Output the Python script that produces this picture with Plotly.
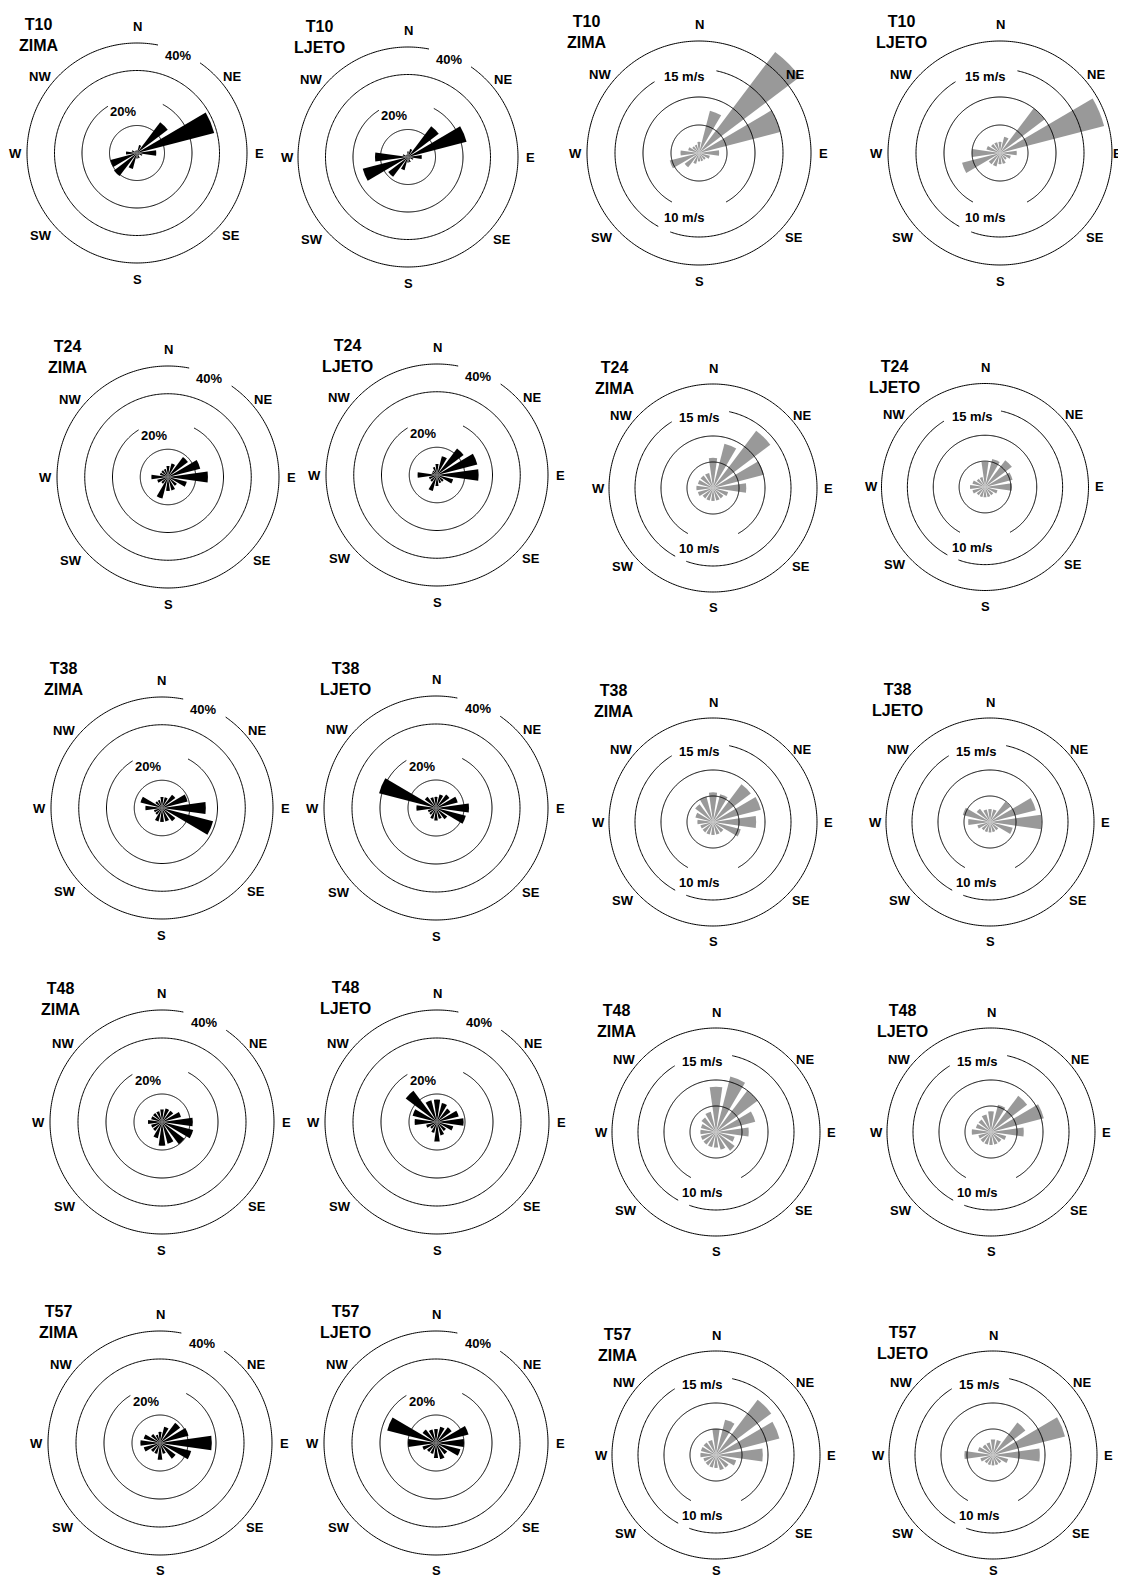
import numpy as np
import plotly.graph_objects as go

W, H = 1126, 1580          # page size
PAGE_MARGIN = 8            # default body margin of the html page
FIG_W, FIG_H = W - PAGE_MARGIN, H - PAGE_MARGIN

# ---------------- data ----------------
DIRECTIONS = ["N", "NNE", "NE", "ENE", "E", "ESE", "SE", "SSE",
              "S", "SSW", "SW", "WSW", "W", "WNW", "NW", "NNW"]
THETA = [0, 22.5, 45, 67.5, 90, 112.5, 135, 157.5,
         180, 202.5, 225, 247.5, 270, 292.5, 315, 337.5]

STATIONS = ["T10", "T24", "T38", "T48", "T57"]
SEASONS = ["ZIMA", "LJETO"]

FREQ_RINGS = [10, 20, 30, 40]          # %
SPEED_RINGS = [5, 10, 15, 20]          # m/s
COMPASS_LABELS = ["N", "NE", "E", "SE", "S", "SW", "W", "NW"]

# frequency of direction (%)
freq_T10_zima = [1, 3, 14, 29, 7, 2, 1, 2, 2, 6, 10.5, 10, 4, 2, 1, 1]
freq_T10_ljeto = [2, 3, 14, 22, 5, 2, 1, 2, 2, 5, 9, 17, 12, 2, 1, 1]
freq_T24_zima = [4, 5, 9, 12, 14.4, 7, 4, 5, 5, 8, 3, 4, 6, 3, 3, 3]
freq_T24_ljeto = [4, 7, 12, 15, 15, 6, 3, 3, 4, 6, 3, 3, 7, 2, 2, 3]
freq_T38_zima = [4, 4, 6, 9.5, 15.8, 19, 6, 5, 5, 5, 3, 3, 6, 8, 3, 3]
freq_T38_ljeto = [4, 5, 6, 8, 11.8, 11, 5, 4, 4.5, 4, 3, 3, 7, 21, 5, 4]
freq_T48_zima = [4.5, 5, 5, 7, 11, 11.5, 10, 8, 8.5, 6, 4, 4, 5, 4, 4, 4]
freq_T48_ljeto = [8, 7, 6, 8, 9.5, 6, 4, 5, 7, 4, 3, 4, 8, 9, 14, 8]
freq_T57_zima = [4, 6, 9, 10.5, 18.5, 11.5, 7, 4, 6, 4, 4, 6, 7, 6, 4, 3]
freq_T57_ljeto = [5, 6, 7, 12, 10, 9, 5, 6, 5.4, 4, 4, 5, 10, 18, 6, 5]

# mean wind speed per direction (m/s)
speed_T10_zima = [2, 7.8, 22.6, 15, 3.6, 2, 1.5, 1.5, 1.5, 2, 3.2, 5.4, 3.3, 2, 1.5, 1.5]
speed_T10_ljeto = [2, 3, 10, 19.2, 3, 2, 1.5, 2, 2, 2.5, 2.5, 7, 5, 2.5, 2, 2]
speed_T24_zima = [5.8, 8.8, 13.8, 10.1, 6.4, 3, 2.5, 2.5, 2.5, 2.5, 2.5, 3, 3.2, 3, 3, 3]
speed_T24_ljeto = [4.9, 5.6, 6.5, 5.5, 5.2, 2.5, 2, 2, 2, 2, 2, 2.5, 2.9, 2.5, 2, 2]
speed_T38_zima = [5.7, 5.5, 9.1, 9.5, 8.3, 5.5, 2.5, 2.5, 2.5, 2.5, 2.5, 2.5, 3, 3.5, 4.3, 5]
speed_T38_ljeto = [2.5, 2.5, 4.9, 9.1, 9.9, 4.5, 2, 2, 2, 2, 2, 2.5, 4.2, 5.4, 3.2, 2.5]
speed_T48_zima = [8.7, 11, 10, 7.8, 6.3, 3.7, 4.5, 3.5, 3, 3, 3, 3, 3, 3, 3.5, 4]
speed_T48_ljeto = [4, 5.4, 8.7, 10.5, 6.3, 3, 2.5, 2.5, 2.5, 2.5, 2.5, 2.5, 3.7, 3, 3, 3.5]
speed_T57_zima = [5, 7, 13.3, 12.6, 9, 4, 3, 3, 2.5, 2.5, 2.5, 2.5, 3, 3, 3, 3]
speed_T57_ljeto = [3, 3, 7.8, 14.3, 9, 3, 2, 2, 2, 2, 2, 2.5, 5.5, 3, 2.5, 2.5]

FREQ = {("T10", "ZIMA"): freq_T10_zima, ("T10", "LJETO"): freq_T10_ljeto,
        ("T24", "ZIMA"): freq_T24_zima, ("T24", "LJETO"): freq_T24_ljeto,
        ("T38", "ZIMA"): freq_T38_zima, ("T38", "LJETO"): freq_T38_ljeto,
        ("T48", "ZIMA"): freq_T48_zima, ("T48", "LJETO"): freq_T48_ljeto,
        ("T57", "ZIMA"): freq_T57_zima, ("T57", "LJETO"): freq_T57_ljeto}
SPEED = {("T10", "ZIMA"): speed_T10_zima, ("T10", "LJETO"): speed_T10_ljeto,
         ("T24", "ZIMA"): speed_T24_zima, ("T24", "LJETO"): speed_T24_ljeto,
         ("T38", "ZIMA"): speed_T38_zima, ("T38", "LJETO"): speed_T38_ljeto,
         ("T48", "ZIMA"): speed_T48_zima, ("T48", "LJETO"): speed_T48_ljeto,
         ("T57", "ZIMA"): speed_T57_zima, ("T57", "LJETO"): speed_T57_ljeto}

# ---------------- layout (pixel geometry, styling) ----------------
# per row: columns A (freq zima), B (freq ljeto), C (speed zima), D (speed ljeto)
# (cx, cy, R of outer ring, title dx, title dy) in page pixels
GEOM = [
    [(137, 153, 110, -98, -118), (408, 157, 110, -89, -120),
     (699, 153, 112, -112, -121), (1000, 153, 112, -99, -121)],
    [(168, 477, 111, -100, -120), (437, 475, 111, -90, -119),
     (713, 488, 104, -98, -110), (985, 487, 103.5, -91, -110)],
    [(162, 808, 111, -98, -129), (436, 808, 112, -91, -129),
     (713, 822, 104, -99, -121), (990, 822, 104, -93, -122)],
    [(162, 1122, 112, -101, -123), (437, 1122, 112, -92, -124),
     (716, 1132, 104, -99, -111), (991, 1132, 104, -89, -111)],
    [(160, 1443, 112, -101, -121), (436, 1443, 112, -91, -121),
     (716, 1455, 104, -98, -110), (993, 1455, 104, -91, -112)],
]

FONT = "Arial, 'Liberation Sans', sans-serif"
BAR_WIDTH = 16
FREQ_COLOR = "#000000"
SPEED_COLOR = "#999999"

# ring segments drawn (bearing ranges), gaps left for labels
FREQ_SEGMENTS = {10: [(0, 360)], 20: [(28, 328)], 30: [(0, 360)], 40: [(35, 371)]}
SPEED_SEGMENTS = {5: [(0, 360)], 10: [(209, 511)], 15: [(12, 200), (209, 328)], 20: [(0, 360)]}

# compass label offsets (fraction of R): dx, dy (screen, y down)
COMPASS_OFF = {"N": (0, -1.15), "NE": (0.86, -0.70), "E": (1.11, 0), "SE": (0.85, 0.75),
               "S": (0, 1.15), "SW": (-0.87, 0.75), "W": (-1.10, 0), "NW": (-0.88, -0.70)}

LABEL_X_MAX = W - 9        # keep edge labels fully inside the page
LABEL_Y_MAX = H - 10


def px(x, y):
    x -= PAGE_MARGIN
    y -= PAGE_MARGIN
    return x / FIG_W, 1 - y / FIG_H


fig = go.Figure()
annotations = []
layout_polars = {}

idx = 0
for row, station in enumerate(STATIONS):
    panels = [("freq", "ZIMA"), ("freq", "LJETO"), ("speed", "ZIMA"), ("speed", "LJETO")]
    for col, (kind, season) in enumerate(panels):
        idx += 1
        key = "polar" if idx == 1 else f"polar{idx}"
        cx, cy, R, tdx, tdy = GEOM[row][col]
        if kind == "freq":
            vals = FREQ[(station, season)]
            rings, segs, ring_max, color = FREQ_RINGS, FREQ_SEGMENTS, 40, FREQ_COLOR
        else:
            vals = SPEED[(station, season)]
            rings, segs, ring_max, color = SPEED_RINGS, SPEED_SEGMENTS, 20, SPEED_COLOR
        rmax = max(ring_max * 1.03, max(vals) * 1.04)
        Rd = R * rmax / ring_max
        x0, y1 = px(cx - Rd, cy - Rd)
        x1, y0 = px(cx + Rd, cy + Rd)
        layout_polars[key] = dict(
            domain=dict(x=[max(0, x0), min(1, x1)], y=[max(0, y0), min(1, y1)]),
            bgcolor="rgba(0,0,0,0)",
            radialaxis=dict(range=[0, rmax], visible=False),
            angularaxis=dict(rotation=90, direction="clockwise", showline=False,
                             showticklabels=False, showgrid=False, ticks=""),
        )
        # rings
        for rv in rings:
            for a, b in segs[rv]:
                n = int(abs(b - a)) + 1
                fig.add_trace(go.Scatterpolar(
                    r=[rv] * n, theta=np.linspace(a, b, n), mode="lines",
                    line=dict(color="black", width=1), subplot=key,
                    hoverinfo="skip", showlegend=False))
        # bars
        fig.add_trace(go.Barpolar(
            r=vals, theta=THETA, width=BAR_WIDTH, subplot=key,
            marker=dict(color=color, line=dict(width=0)),
            showlegend=False, name=f"{station} {season}"))

        # compass labels
        for lab in COMPASS_LABELS:
            fx, fy = COMPASS_OFF[lab]
            lx = min(cx + fx * R, LABEL_X_MAX)
            ly = min(cy + fy * R, LABEL_Y_MAX)
            ax_, ay_ = px(lx, ly)
            annotations.append(dict(x=ax_, y=ay_, xref="paper", yref="paper",
                                    text=f"<b>{lab}</b>", showarrow=False,
                                    font=dict(family=FONT, size=13, color="black"),
                                    xanchor="center", yanchor="middle"))
        # ring labels
        if kind == "freq":
            rl = [("20%", -0.127, -0.373), ("40%", 0.373, -0.89)]
        else:
            rl = [("15 m/s", -0.13, -0.68), ("10 m/s", -0.13, 0.58)]
        for t, fx, fy in rl:
            ax_, ay_ = px(cx + fx * R, cy + fy * R)
            annotations.append(dict(x=ax_, y=ay_, xref="paper", yref="paper",
                                    text=f"<b>{t}</b>", showarrow=False,
                                    font=dict(family=FONT, size=13, color="black"),
                                    xanchor="center", yanchor="middle"))
        # title
        ax_, ay_ = px(cx + tdx, cy + tdy)
        annotations.append(dict(x=ax_, y=ay_, xref="paper", yref="paper",
                                text=f"<b>{station}</b><br><b>{season}</b>", showarrow=False,
                                font=dict(family=FONT, size=16, color="black"),
                                xanchor="center", yanchor="middle", align="center"))

fig.update_layout(
    width=FIG_W, height=FIG_H, margin=dict(l=0, r=0, t=0, b=0),
    paper_bgcolor="white", plot_bgcolor="white",
    showlegend=False, annotations=annotations, **layout_polars)

fig.write_html("out.html")
